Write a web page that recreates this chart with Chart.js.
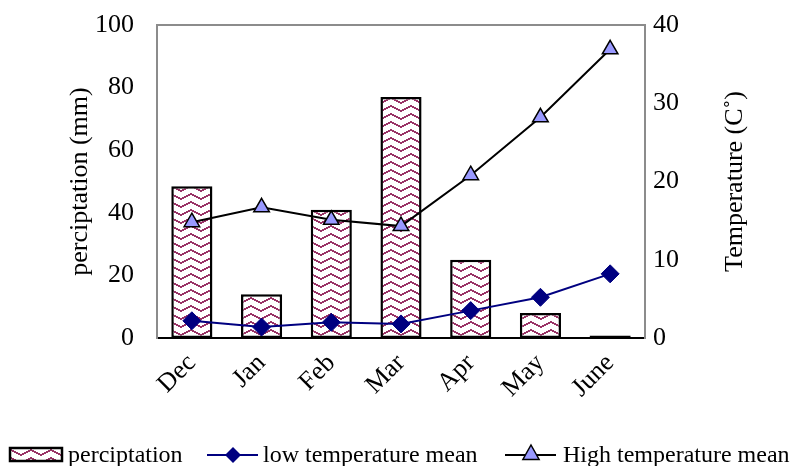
<!DOCTYPE html>
<html>
<head>
<meta charset="utf-8">
<script src="https://cdn.jsdelivr.net/npm/chart.js@4"></script>
<style>
  html, body { margin: 0; padding: 0; background: #fff; }
  #wrap { width: 794px; height: 466px; }
</style>
</head>
<body>
<div id="wrap"><canvas id="chart" width="794" height="466"></canvas></div>
<script>
const months = ["Dec", "Jan", "Feb", "Mar", "Apr", "May", "June"];
const precipitation = [48.5, 14, 41, 77, 25, 8, 0.8];
const lowTemp = [2.2, 1.4, 2.0, 1.8, 3.5, 5.2, 8.2];
const highTemp = [14.8, 16.7, 15.1, 14.3, 20.8, 28.2, 36.9];
const precipTicks = [0, 20, 40, 60, 80, 100];
const tempTicks = [0, 10, 20, 30, 40];

const FONT = "'Liberation Serif', 'Times New Roman', serif";
const WAVE = "#993366";
const NAVY = "#000080";
const TRI = "#9999ff";

// wave hatch pattern like the Excel fill
function makePattern(ctx) {
  const tile = document.createElement("canvas");
  tile.width = 20; tile.height = 8;
  const t = tile.getContext("2d");
  t.fillStyle = "#fff";
  t.fillRect(0, 0, 20, 8);
  t.fillStyle = WAVE;
  const ys = [6, 5, 4, 3, 2, 1, 2, 3, 4, 5];
  ys.forEach((y, i) => t.fillRect(i * 2, y, 2, 2));
  return ctx.createPattern(tile, "repeat");
}

const canvas = document.getElementById("chart");
const ctx = canvas.getContext("2d");
const pattern = makePattern(ctx);

function drawDiamond(c, x, y, r) {
  c.beginPath();
  c.moveTo(x, y - r); c.lineTo(x + r, y); c.lineTo(x, y + r); c.lineTo(x - r, y);
  c.closePath();
}
function drawTriangle(c, x, y, r) {
  c.beginPath();
  c.moveTo(x, y - r); c.lineTo(x + r * 0.9, y + r * 0.6); c.lineTo(x - r * 0.9, y + r * 0.6);
  c.closePath();
}

function noPad(s) {
  s.paddingTop = 0; s.paddingBottom = 0;
  s.paddingLeft = 0; s.paddingRight = 0;
}

const extras = {
  id: "extras",
  afterDatasetsDraw(chart) {
    const c = chart.ctx;
    const a = chart.chartArea;
    c.save();
    // grey frame on top and sides
    c.strokeStyle = "#8c8c8c";
    c.lineWidth = 2;
    c.beginPath();
    c.moveTo(a.left, a.bottom); c.lineTo(a.left, a.top); c.lineTo(a.right, a.top); c.lineTo(a.right, a.bottom);
    c.stroke();
    c.restore();
  },
  afterDraw(chart) {
    const c = chart.ctx;
    const a = chart.chartArea;
    const midY = (a.top + a.bottom) / 2;
    c.save();
    c.fillStyle = "#000";
    c.font = "26px " + FONT;
    c.textAlign = "center";
    c.textBaseline = "middle";
    // axis titles, both reading bottom to top
    c.save();
    c.translate(80, midY);
    c.rotate(-Math.PI / 2);
    c.fillText("perciptation (mm)", 0, 0);
    c.restore();
    c.save();
    c.translate(735, midY);
    c.rotate(-Math.PI / 2);
    c.fillText("Temperature (C˚)", 0, 0);
    c.restore();
    c.restore();

    // legend
    c.save();
    const ly = 455;
    c.font = "24px " + FONT;
    c.textBaseline = "middle";
    c.textAlign = "left";
    c.fillStyle = pattern;
    c.fillRect(10, ly - 7, 52, 13);
    c.strokeStyle = "#000";
    c.lineWidth = 2.5;
    c.strokeRect(10, ly - 7, 52, 13);
    c.fillStyle = "#000";
    c.fillText("perciptation", 68, ly + 1);

    c.strokeStyle = NAVY;
    c.lineWidth = 2;
    c.beginPath(); c.moveTo(207, ly); c.lineTo(258, ly); c.stroke();
    c.fillStyle = NAVY;
    drawDiamond(c, 233, ly, 8); c.fill();
    c.fillStyle = "#000";
    c.fillText("low temperature mean", 263, ly + 1);

    c.strokeStyle = "#000";
    c.lineWidth = 2;
    c.beginPath(); c.moveTo(505, ly); c.lineTo(556, ly); c.stroke();
    c.fillStyle = TRI;
    drawTriangle(c, 531, ly - 1, 9); c.fill();
    c.lineWidth = 1.5; c.stroke();
    c.fillStyle = "#000";
    c.fillText("High temperature mean", 563, ly + 1);
    c.restore();
  }
};

new Chart(ctx, {
  type: "bar",
  data: {
    labels: months,
    datasets: [
      {
        type: "line",
        label: "low temperature mean",
        data: lowTemp,
        yAxisID: "y1",
        borderColor: NAVY,
        backgroundColor: NAVY,
        borderWidth: 2,
        pointStyle: "rectRot",
        pointRadius: 9,
        pointBorderWidth: 1,
        pointBorderColor: NAVY,
        tension: 0,
        order: 0
      },
      {
        type: "line",
        label: "High temperature mean",
        data: highTemp,
        yAxisID: "y1",
        borderColor: "#000",
        backgroundColor: TRI,
        borderWidth: 2,
        pointStyle: "triangle",
        pointRadius: 9,
        pointBorderWidth: 1.5,
        pointBorderColor: "#000",
        tension: 0,
        order: 0
      },
      {
        label: "perciptation",
        data: precipitation,
        yAxisID: "y",
        backgroundColor: pattern,
        borderColor: "#000",
        borderWidth: 2.5,
        borderSkipped: false,
        categoryPercentage: 1,
        barPercentage: 0.59,
        order: 1
      }
    ]
  },
  options: {
    responsive: false,
    animation: false,
    layout: { padding: { top: 25, bottom: 40, left: 0, right: 0 } },
    plugins: { legend: { display: false }, tooltip: { enabled: false } },
    scales: {
      x: {
        grid: { display: false },
        border: { display: true, color: "#000", width: 2 },
        ticks: {
          color: "#000",
          font: { family: FONT, size: 26 },
          minRotation: 45,
          maxRotation: 45,
          padding: 2
        },
        afterFit(s) { noPad(s); s.height = 466 - 40 - 338; }
      },
      y: {
        position: "left",
        min: 0,
        max: 100,
        afterBuildTicks(s) { s.ticks = precipTicks.map(v => ({ value: v })); },
        grid: { display: false },
        border: { display: true, color: "#8c8c8c", width: 2 },
        ticks: { color: "#000", font: { family: FONT, size: 26 }, padding: 15 },
        afterFit(s) { noPad(s); s.width = 157; }
      },
      y1: {
        position: "right",
        min: 0,
        max: 40,
        afterBuildTicks(s) { s.ticks = tempTicks.map(v => ({ value: v })); },
        grid: { display: false },
        border: { display: true, color: "#8c8c8c", width: 2 },
        ticks: { color: "#000", font: { family: FONT, size: 26 }, padding: 0 },
        afterFit(s) { noPad(s); s.width = 794 - 645; }
      }
    }
  },
  plugins: [extras]
});
</script>
</body>
</html>
